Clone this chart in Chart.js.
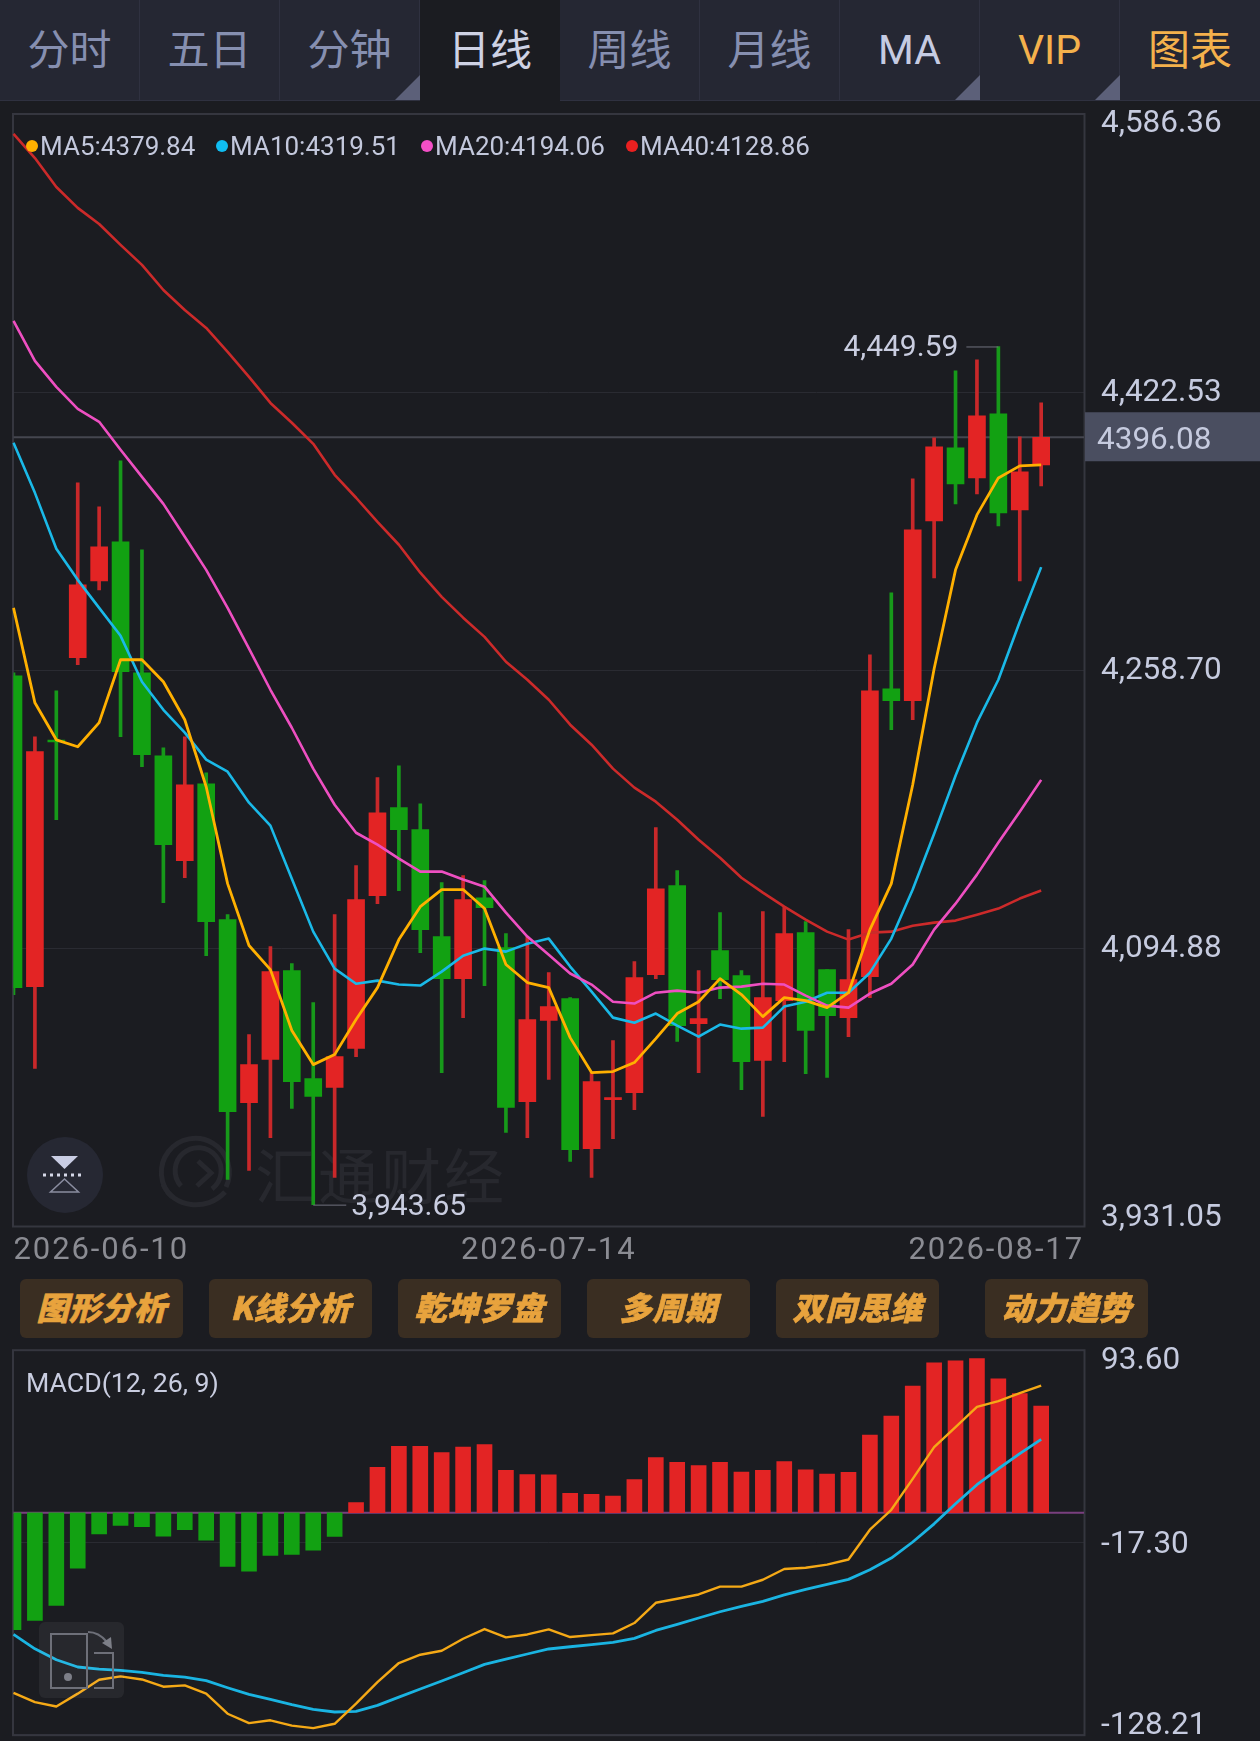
<!DOCTYPE html>
<html lang="zh"><head><meta charset="utf-8">
<script src="https://cdn.jsdelivr.net/npm/chart.js@4/dist/chart.umd.min.js"></script>
<style>
html,body{margin:0;padding:0;background:#1b1c21;width:1260px;height:1741px;overflow:hidden}
#page{position:relative;width:1260px;height:1741px;overflow:hidden;background:#1b1c21;font-family:Roboto,"Noto Sans CJK SC",sans-serif}
canvas{position:absolute;left:0}
#c1{top:0;z-index:2} #c2{top:1290px;z-index:2}
.tab{position:absolute;top:0;height:100px;width:139px;background:#252733;border-right:1px solid #2f3140;border-bottom:1px solid #2f3140;color:#868fb0;font:400 42px/94px "Noto Sans CJK SC",sans-serif;text-align:center;z-index:5}
.tab.on{background:#1b1c21;color:#ced2e4;border-bottom:0;border-right:0;width:140px}
.tab.ma{color:#c5cbe2;font:400 41px/100px Roboto,sans-serif}
.tab.gold{color:#f4b14c}
.tab.vip{font:400 41px/100px Roboto,sans-serif;color:#f4b14c}
.tab.cor::after{content:"";position:absolute;right:-1px;bottom:0;border-style:solid;border-width:0 0 25px 25px;border-color:transparent transparent #5c6079 transparent}
.btn{position:absolute;top:1279px;height:59px;background:#3a2e22;border-radius:6px;color:#e8a33d;font:italic 900 32px/55px "Noto Sans CJK SC",sans-serif;text-align:center;z-index:3;letter-spacing:.5px;-webkit-text-stroke:.6px #e8a33d}
.leg{position:absolute;top:129px;color:#c3c8dc;font:400 26px/34px Roboto,sans-serif;z-index:4;white-space:nowrap}
.dot{position:absolute;top:140px;width:12px;height:12px;border-radius:50%;z-index:4}
#macdT{position:absolute;left:26px;top:1366px;color:#c9cde0;font:400 26.700px/34px Roboto,sans-serif;z-index:4}
#wm{position:absolute;left:255px;top:1135px;color:#27282e;font:400 60px/76px "Noto Sans CJK SC",sans-serif;letter-spacing:3px;z-index:1}
svg{position:absolute;left:0;top:0;z-index:6;pointer-events:none}
svg.low{z-index:1}
</style></head><body><div id="page">
<div class="tab" style="left:0">分时</div><div class="tab" style="left:140px">五日</div><div class="tab cor" style="left:280px">分钟</div><div class="tab on" style="left:420px">日线</div><div class="tab" style="left:560px">周线</div><div class="tab" style="left:700px">月线</div><div class="tab ma cor" style="left:840px">MA</div><div class="tab gold vip cor" style="left:980px">VIP</div><div class="tab gold" style="left:1120px;width:140px;border-right:0">图表</div>
<span class="dot" style="left:26px;background:#ffb000"></span><span class="leg" style="left:40px">MA5:4379.84</span>
<span class="dot" style="left:216px;background:#10bdf2"></span><span class="leg" style="left:230px">MA10:4319.51</span>
<span class="dot" style="left:421px;background:#f44fc6"></span><span class="leg" style="left:435px">MA20:4194.06</span>
<span class="dot" style="left:626px;background:#ea2020"></span><span class="leg" style="left:640px">MA40:4128.86</span>
<div id="wm">汇通财经</div>
<svg class="low" width="1260" height="1741"><g fill="none" stroke="#27282e" stroke-width="5"><path d="M172 1197a34 34 0 1 1 54-10"/><path d="M181 1186a23 23 0 1 1 31 3"/><path d="M198 1161l13 12-14 13"/><path d="M163 1184c10 24 44 28 62 8"/></g></svg>
<canvas id="c1" width="1260" height="1270"></canvas>
<div class="btn" style="left:20px;width:163px">图形分析</div><div class="btn" style="left:209px;width:163px">K线分析</div><div class="btn" style="left:398px;width:163px">乾坤罗盘</div><div class="btn" style="left:587px;width:163px">多周期</div><div class="btn" style="left:776px;width:163px">双向思维</div><div class="btn" style="left:985px;width:163px">动力趋势</div>
<div id="macdT">MACD(12, 26, 9)</div>
<canvas id="c2" width="1260" height="520"></canvas>
<svg width="1260" height="1741">
<circle cx="65" cy="1175" r="38" fill="#262833"/><path d="M51 1156h27l-13.500 13z" fill="#c9cde4"/><path d="M43 1175h42" stroke="#d5d8e8" stroke-width="3" stroke-dasharray="3 4"/><path d="M64.500 1179l14 13h-28z" fill="none" stroke="#8a8da0" stroke-width="1.500"/>
<rect x="39" y="1622" width="85" height="76" rx="6" fill="#fff" fill-opacity=".055"/>
<g fill="none" stroke="#6e7079" stroke-width="2"><rect x="51" y="1634" width="36" height="54"/><path d="M94 1653h19v35h-19"/><path d="M88 1632c8 0 14 4 19 10"/></g><path d="M112 1649l-10-6 9-6z" fill="#7d7f88"/><circle cx="68" cy="1677" r="4" fill="#7d7f88"/>
</svg>
</div>
<script>
const dates=['2026-06-10','2026-06-11','2026-06-12','2026-06-15','2026-06-16','2026-06-17','2026-06-18','2026-06-19','2026-06-22','2026-06-23','2026-06-24','2026-06-25','2026-06-26','2026-06-29','2026-06-30','2026-07-01','2026-07-02','2026-07-03','2026-07-06','2026-07-07','2026-07-08','2026-07-09','2026-07-10','2026-07-13','2026-07-14','2026-07-15','2026-07-16','2026-07-17','2026-07-20','2026-07-21','2026-07-22','2026-07-23','2026-07-24','2026-07-27','2026-07-28','2026-07-29','2026-07-30','2026-07-31','2026-08-03','2026-08-04','2026-08-05','2026-08-06','2026-08-07','2026-08-10','2026-08-11','2026-08-12','2026-08-13','2026-08-14','2026-08-17','',''];
const xTickLabels=['2026-06-10','2026-07-14','2026-08-17'];
const xTickIndex=[0,25,50];
const priceTicks=[4586.36,4422.53,4258.70,4094.88,3931.05];
const macdTicks=[93.60,-17.30,-128.21];
const lastClose=4396.08;
const open=[4255.4,4072.2,4217.6,4266.1,4311.4,4334.4,4257.2,4208.3,4146.4,4191.8,4111.7,4003.8,4029.2,4081.6,4018.0,4012.7,4035.7,4125.8,4177.7,4164.7,4101.7,4076.9,4124.6,4095.2,4004.4,4052.2,4065.1,3976.7,4005.6,4009.7,4079.3,4131.7,4050.4,4093.4,4078.7,4028.6,4063.9,4104.0,4082.2,4053.9,4078.1,4247.8,4240.7,4346.8,4389.8,4372.1,4409.9,4353.3,4379.8];
const close=[4071.6,4210.7,4216.4,4309.1,4331.5,4257.8,4208.9,4155.9,4191.2,4110.5,3998.5,4026.2,4081.0,4016.2,4007.4,4030.9,4123.5,4174.7,4164.7,4105.8,4076.9,4123.5,4118.8,4000.9,4052.8,4060.4,3976.1,4016.2,4006.8,4077.5,4129.9,4049.2,4053.3,4076.3,4028.0,4065.7,4103.4,4046.3,4055.1,4076.3,4246.6,4240.7,4341.5,4390.4,4368.6,4408.7,4351.5,4375.7,4396.08];
const high=[4257.2,4219.5,4246.6,4369.2,4355.1,4382.2,4329.7,4213.0,4219.5,4198.3,4114.6,4043.9,4095.8,4085.8,4062.8,4114.6,4143.5,4195.4,4202.4,4180.0,4133.5,4137.6,4134.7,4103.4,4101.7,4080.4,4065.7,4021.5,4040.4,4086.9,4165.9,4140.6,4081.6,4115.8,4081.6,4116.4,4119.3,4110.5,4082.2,4105.8,4267.8,4304.4,4371.5,4395.7,4435.2,4441.7,4449.59,4396.3,4416.3];
const low=[4067.4,4023.9,4170.6,4262.0,4306.1,4219.5,4201.8,4121.7,4136.4,4090.4,3958.5,3963.8,3983.2,4000.3,3943.65,3959.7,4030.9,4121.1,4128.8,4092.2,4021.5,4053.9,4072.8,3986.2,3983.2,4017.4,3969.1,3959.7,3982.6,3999.7,4076.9,4039.8,4021.5,4065.1,4011.5,3995.6,4028.0,4020.9,4018.6,4042.7,4065.7,4223.6,4229.5,4313.2,4356.8,4362.7,4343.8,4311.4,4367.4];
const ma5=[4295.5,4239.5,4217.7,4213.6,4227.8,4264.9,4264.9,4251.9,4229.5,4190.0,4132.9,4096.4,4082.2,4046.3,4026.2,4032.1,4052.8,4071.6,4099.9,4119.3,4129.4,4129.4,4118.2,4085.2,4074.6,4071.6,4042.1,4021.5,4022.1,4027.4,4041.5,4056.3,4063.3,4076.9,4067.5,4054.5,4065.7,4063.9,4059.8,4068.6,4105.8,4132.9,4191.2,4259.6,4317.9,4350.3,4372.1,4379.2,4379.84];
const ma10=[4392.8,4363.3,4330.3,4312.0,4295.5,4279.0,4251.9,4235.4,4221.9,4206.0,4198.9,4180.6,4167.1,4135.8,4104.6,4082.8,4073.9,4075.7,4073.4,4072.8,4081.0,4090.4,4094.6,4092.8,4097.5,4100.5,4084.0,4069.2,4053.9,4050.9,4056.3,4049.2,4042.7,4049.8,4047.4,4048.0,4060.4,4063.3,4068.6,4068.6,4080.4,4100.5,4129.4,4162.3,4196.5,4227.8,4253.1,4287.3,4319.51];
const ma20=[4464.7,4441.1,4425.8,4412.8,4405.2,4388.7,4372.7,4356.8,4337.4,4317.9,4295.5,4271.4,4247.2,4224.8,4200.7,4179.4,4162.9,4155.9,4147.6,4140.0,4140.0,4135.3,4131.1,4115.8,4101.7,4091.0,4079.9,4073.4,4063.3,4062.2,4068.6,4069.8,4068.6,4071.6,4072.2,4073.9,4073.4,4066.9,4061.0,4059.8,4068.1,4073.9,4085.2,4105.8,4121.1,4138.2,4157.1,4175.3,4194.06];
const ma40=[4574.9,4560.7,4543.6,4531.3,4521.8,4509.5,4497.7,4482.9,4471.1,4460.5,4446.4,4431.7,4416.3,4404.6,4392.2,4373.9,4360.4,4346.2,4332.7,4316.2,4302.0,4289.7,4278.4,4263.7,4253.1,4241.3,4226.6,4214.8,4200.7,4189.5,4181.2,4170.6,4158.8,4148.2,4136.4,4127.6,4119.3,4111.7,4104.6,4099.9,4104.0,4104.6,4108.1,4109.9,4111.1,4114.6,4118.2,4124.1,4128.86];
const macdHist=[-67.6,-62.2,-53.5,-32.0,-12.3,-7.3,-8.1,-13.5,-9.8,-15.8,-31.0,-33.7,-24.6,-24.1,-21.6,-13.7,5.8,26.2,38.3,38.3,34.7,37.9,39.3,24.5,22.1,21.9,11.2,10.6,9.6,19.1,31.8,29.1,27.3,29.1,23.5,24.5,29.6,24.8,22.3,23.3,44.9,55.8,73.2,86.6,87.8,89.1,77.4,68.9,61.6];
const macdDif=[-104.0,-109.4,-111.9,-104.5,-96.5,-94.5,-96.3,-100.5,-99.7,-104.5,-116.1,-121.5,-119.9,-123.0,-124.4,-121.9,-110.3,-97.8,-86.8,-82.0,-79.7,-72.8,-67.2,-72.0,-70.3,-67.4,-71.8,-70.7,-69.7,-63.7,-52.0,-49.7,-47.2,-42.7,-42.7,-38.7,-32.5,-31.8,-30.0,-27.0,-9.8,1.7,19.6,37.9,49.5,61.2,64.5,69.1,73.4];
const macdDea=[-70.3,-78.6,-84.9,-89.1,-90.3,-91.1,-92.2,-94.0,-94.9,-97.0,-101.1,-104.9,-107.8,-110.9,-113.6,-115.1,-114.7,-111.3,-106.5,-101.8,-97.2,-92.4,-87.6,-84.5,-81.6,-78.7,-77.4,-76.2,-74.9,-72.6,-68.0,-64.5,-60.8,-57.2,-54.1,-51.2,-47.4,-44.3,-41.4,-38.5,-32.9,-26.2,-16.9,-6.4,5.2,16.2,25.4,34.1,42.4];

const RED='#e32424',GREEN='#12a112',WRED='#c9282a',WGREEN='#17991a';
const FONT='Roboto';
Chart.defaults.animation=false;
Chart.defaults.font.family=FONT;
const up=i=>close[i]>=open[i];
const bodyData=open.map((o,i)=>[o,close[i]]);
const wickData=low.map((l,i)=>[l,high[i]]);
const fmt=v=>v.toLocaleString('en-US',{minimumFractionDigits:2,maximumFractionDigits:2});

function shiftLabels(offsets){return {id:'shift',beforeDraw(ch){const it=ch.scales.y.getLabelItems(ch.chartArea);if(it._s)return;it._s=1;it.forEach((x,i)=>{x.options.translation[1]+=offsets[i]})}}}
const frame={id:'frame',beforeDatasetsDraw(ch){const a=ch.chartArea,c=ch.ctx;c.save();c.strokeStyle='#35363f';c.lineWidth=2;c.strokeRect(a.left-.5,a.top-.5,a.right-a.left+1,a.bottom-a.top+1);c.restore()}};
const lastLine={id:'lastLine',beforeDatasetsDraw(ch){const a=ch.chartArea,c=ch.ctx,y=ch.scales.y.getPixelForValue(lastClose);c.save();c.strokeStyle='#45464f';c.lineWidth=2;c.beginPath();c.moveTo(a.left,y);c.lineTo(a.right,y);c.stroke();c.restore()},
 afterDraw(ch){const a=ch.chartArea,c=ch.ctx,y=ch.scales.y.getPixelForValue(lastClose);c.save();c.fillStyle='#4a4e60';c.fillRect(a.right+1,y-25,176,49);c.fillStyle='#c6cbdf';c.font='31.5px '+FONT;c.textBaseline='middle';c.textAlign='left';c.fillText(lastClose.toFixed(2),1097,y+4);c.restore()}};
const extremes={id:'extremes',afterDatasetsDraw(ch){const c=ch.ctx,X=ch.scales.x,Y=ch.scales.y;const hi=Math.max(...high),lo=Math.min(...low);c.save();c.strokeStyle='#70727e';c.lineWidth=1;c.fillStyle='#c9cde0';c.font='30px '+FONT;c.textBaseline='middle';
 let x=X.getPixelForValue(high.indexOf(hi)),y=Y.getPixelForValue(hi);c.beginPath();c.moveTo(x,y+.5);c.lineTo(x-32,y+.5);c.stroke();c.textAlign='right';c.fillText(fmt(hi),x-40,y+2);
 x=X.getPixelForValue(low.indexOf(lo));y=Y.getPixelForValue(lo);c.beginPath();c.moveTo(x,y+.5);c.lineTo(x+33,y+.5);c.stroke();c.textAlign='left';c.fillText(fmt(lo),x+38,y+3);c.restore()}};
const spacing={id:'spacing',beforeDraw(ch){const s=ch.scales.x;if(s._sp)return;s._sp=1;const d=s.drawLabels.bind(s);s.drawLabels=function(a){ch.ctx.letterSpacing='1.9px';d(a);ch.ctx.letterSpacing='0px'}}};

const line=(data,color,order,w)=>({type:'line',data,borderColor:color,borderWidth:w||2.6,pointRadius:0,tension:0,order,fill:false,borderJoinStyle:'round'});
new Chart(document.getElementById('c1'),{
 data:{labels:dates,datasets:[
  line(ma5,'#ffb000',1,2.8),line(ma10,'#1ab9e8',3),line(ma20,'#ee4fc1',2),line(ma40,'#cc2a2a',4),
  {type:'bar',data:bodyData,backgroundColor:open.map((o,i)=>up(i)?RED:GREEN),barThickness:17,grouped:false,order:5},
  {type:'bar',data:wickData,backgroundColor:open.map((o,i)=>up(i)?WRED:WGREEN),barThickness:3,grouped:false,order:6}
 ]},
 options:{responsive:false,maintainAspectRatio:false,events:[],
  layout:{padding:{left:13.5,top:114.5,right:0,bottom:0}},
  plugins:{legend:{display:false},tooltip:{enabled:false}},
  scales:{
   x:{type:'category',offset:false,grid:{display:false},border:{display:false},
    afterBuildTicks(s){s.ticks=xTickIndex.map(v=>({value:v}))},
    afterFit(s){s.height=44},
    ticks:{autoSkip:false,maxRotation:0,align:'inner',padding:-1,color:'#8b8c93',font:{size:31,family:FONT},callback:(v,i)=>xTickLabels[i]}},
   y:{position:'right',min:3931.05,max:4586.36,border:{display:false},
    grid:{color:'#2a2b32',lineWidth:1,drawTicks:false},
    afterBuildTicks(s){s.ticks=priceTicks.map(v=>({value:v}))},
    afterFit(s){s.width=176},
    ticks:{padding:17,color:'#c6cbdf',font:{size:31.5,family:FONT},callback:v=>fmt(v)}}
  }},
 plugins:[shiftLabels([10,1,1,1,-8]),spacing,frame,lastLine,extremes]
});
new Chart(document.getElementById('c2'),{
 data:{labels:dates,datasets:[
  line(macdDif,'#f5a916',1,2.4),line(macdDea,'#1ab4e2',2,2.8),
  {type:'bar',data:macdHist,backgroundColor:macdHist.map(v=>v>=0?RED:GREEN),barThickness:15,grouped:false,order:3}
 ]},
 options:{responsive:false,maintainAspectRatio:false,events:[],
  layout:{padding:{left:13.5,top:60.7,right:0,bottom:75.3}},
  plugins:{legend:{display:false},tooltip:{enabled:false}},
  scales:{
   x:{type:'category',offset:false,display:false},
   y:{position:'right',min:-128.21,max:93.60,border:{display:false},
    grid:{color:'#2a2b32',lineWidth:1,drawTicks:false},
    afterBuildTicks(s){s.ticks=macdTicks.map(v=>({value:v}))},
    afterFit(s){s.width=176},
    ticks:{padding:17,color:'#c6cbdf',font:{size:31.5,family:FONT},callback:v=>v.toFixed(2)}}
  }},
 plugins:[shiftLabels([10,2,-9]),frame,{id:'zero',beforeDatasetsDraw(ch){const a=ch.chartArea,c=ch.ctx,y=ch.scales.y.getPixelForValue(0);c.save();c.strokeStyle='#7a3f7f';c.lineWidth=2;c.beginPath();c.moveTo(a.left,y);c.lineTo(a.right,y);c.stroke();c.restore()}}]
});
</script></body></html>
